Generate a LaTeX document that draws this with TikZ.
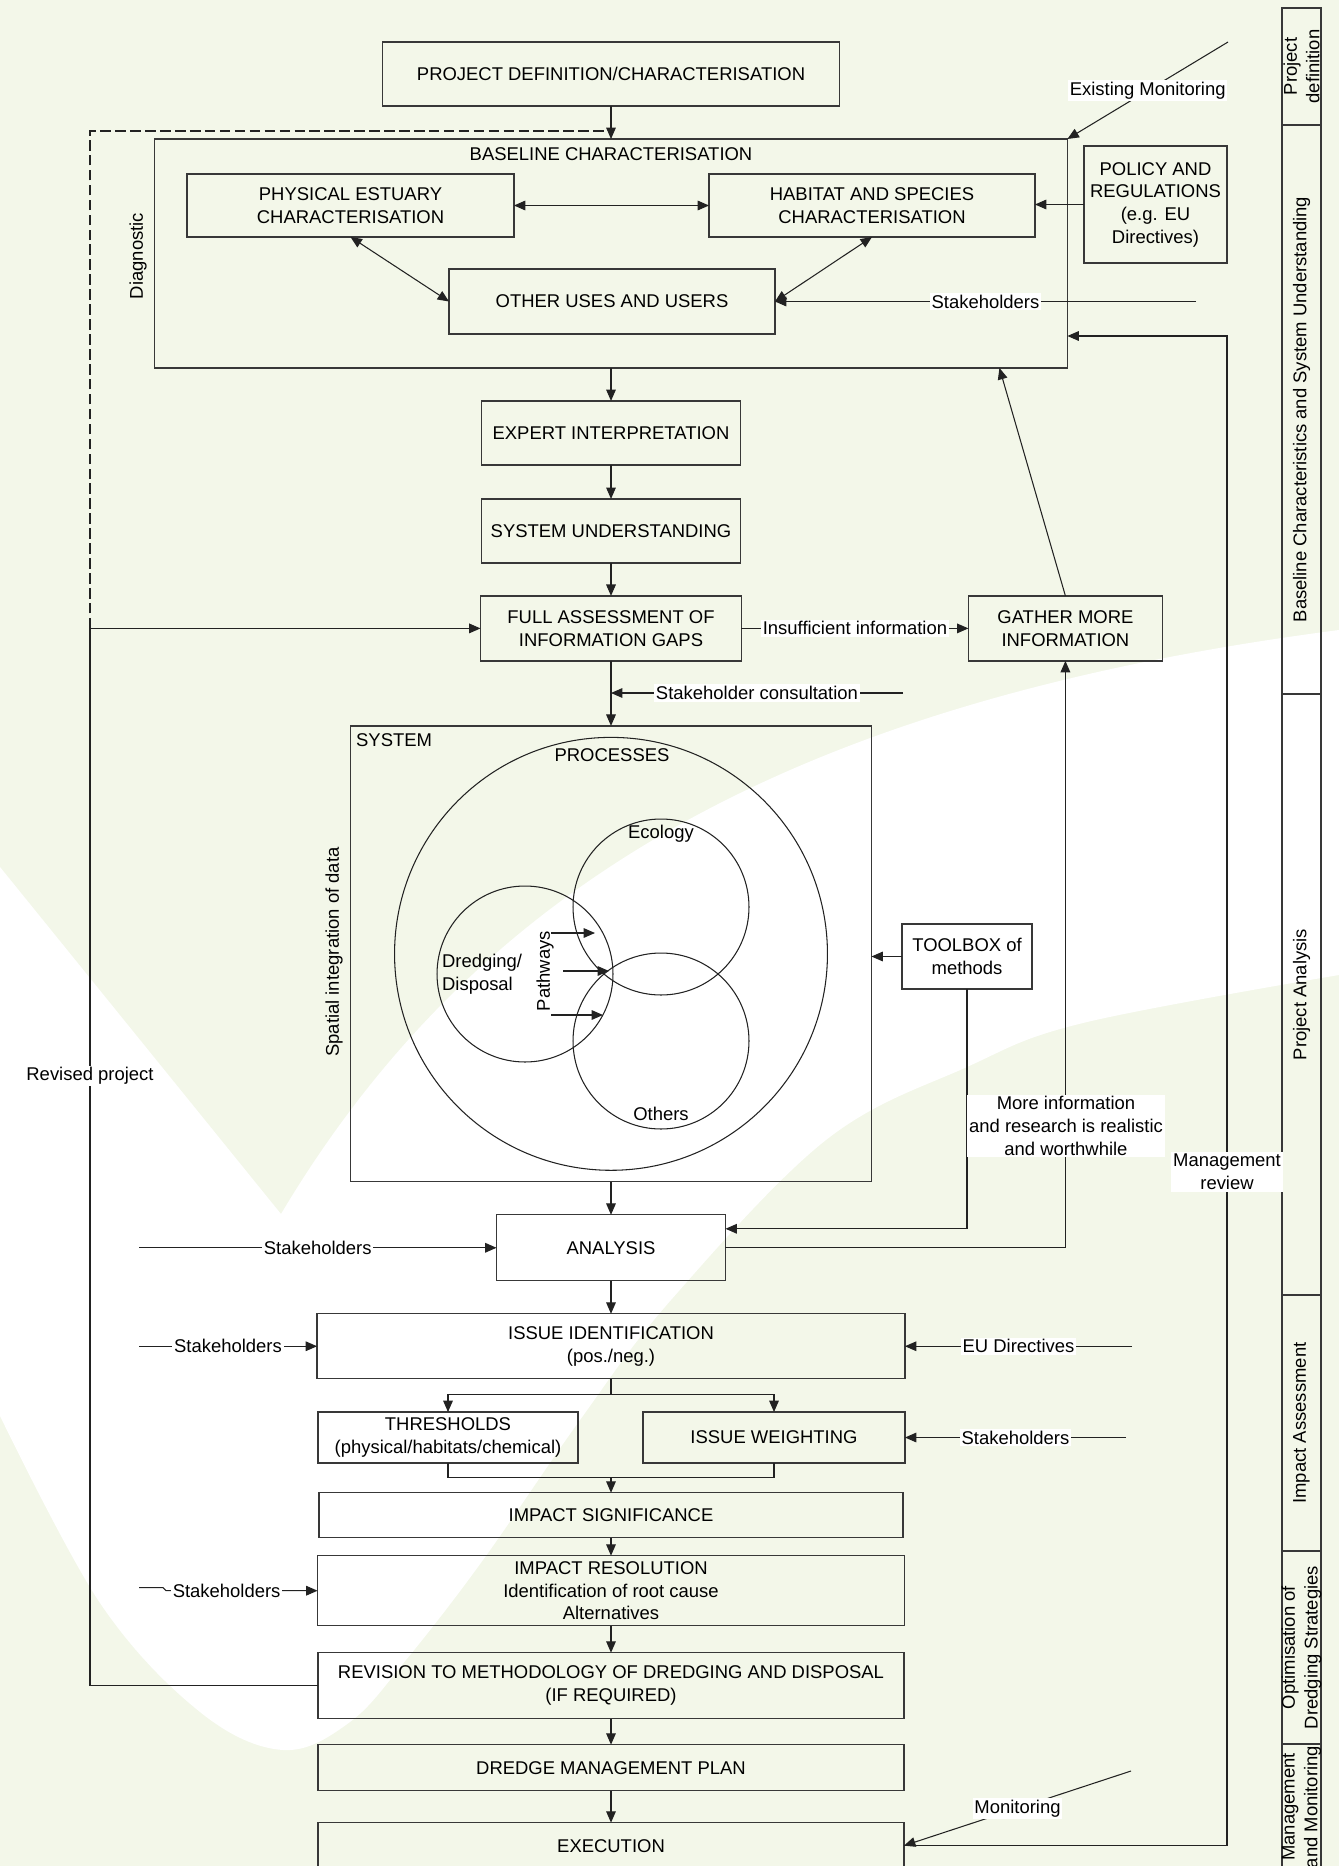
\documentclass[tikz,border=0pt]{standalone}
\usepackage{fontspec}
\setmainfont{Liberation Sans}
\usepackage{tikz}
\usetikzlibrary{arrows.meta, positioning}
\definecolor{PaperGreen}{HTML}{F3F7E9}
\definecolor{BoxGrey}{HTML}{383838}
\definecolor{LineGrey}{HTML}{222222}
\newcommand{\diagfont}{\fontsize{10.5}{12.9}\selectfont}

\begin{document}
\begin{tikzpicture}[x=0.02cm, y=-0.02cm, >={Triangle[length=6.5pt,width=5.5pt]},
  stagebox/.style={draw=BoxGrey, line width=0.8pt, align=center, font=\diagfont,
    inner sep=1pt, outer sep=0pt},
  flow/.style={->, draw=LineGrey, line width=0.6pt},
  link/.style={draw=LineGrey, line width=0.6pt},
  dashline/.style={draw=LineGrey, line width=1.4pt, dash pattern=on 6pt off 2.5pt},
  tag/.style={fill=white, inner sep=1pt, align=center, font=\diagfont},
  txt/.style={inner sep=1pt, align=center, font=\diagfont},
  venn/.style={draw=LineGrey, line width=0.6pt, circle, inner sep=0pt}]

  \useasboundingbox (0,0) rectangle (1339,1866);
  % paper and the white tick behind the chart
  \fill[PaperGreen] (0,0) rectangle (1339,1866);
  \fill[white] (0,867) -- (281,1214) .. controls (480,880) and (800,700) .. (1339,630)
    -- plot[smooth, tension=0.6] coordinates {(1339,975) (1083,1023) (967,1067) (826,1140)
       (671,1300) (580,1420) (483,1560) (406,1660) (350,1722) (283,1750) (200,1712)
       (100,1603) (0,1416)} -- cycle;

  % phase column
  \foreach \ya/\yb/\phase [count=\k] in {8/125/{Project\\definition},
      125/694/{Baseline Characteristics and System Understanding},
      694/1295/{Project Analysis}, 1295/1551/{Impact Assessment},
      1551/1744/{Optimisation of\\Dredging Strategies},
      1744/1870/{Management\\and Monitoring}}{
    \draw[draw=BoxGrey, line width=0.8pt] (1282,\ya) rectangle (1321,\yb);
    \node[txt, rotate=90] (phase\k) at (1301.5,{(\ya+\yb)/2}) {\phase};
  }

  % baseline
  \node[stagebox, minimum width=9.14cm, minimum height=1.28cm] (projdef) at (611,74)
    {PROJECT DEFINITION/CHARACTERISATION};
  \node[stagebox, minimum width=18.26cm, minimum height=4.58cm, below=0.66cm of projdef] (baseline) {};
  \node[txt] (basetitle) at (611,154) {BASELINE CHARACTERISATION};
  \node[txt, rotate=90] (diagnostic) at (138,256) {Diagnostic};
  \node[stagebox, minimum width=6.54cm, minimum height=1.26cm] (physical) at (350.5,205.5)
    {PHYSICAL ESTUARY\\CHARACTERISATION};
  \node[stagebox, minimum width=6.52cm, minimum height=1.26cm] (habitat) at (872,205.5)
    {HABITAT AND SPECIES\\CHARACTERISATION};
  \node[stagebox, minimum width=6.52cm, minimum height=1.30cm] (otheruses) at (612,301.5)
    {OTHER USES AND USERS};
  \node[stagebox, minimum width=2.86cm, minimum height=2.34cm] (policy) at (1155.5,204.5)
    {POLICY AND\\REGULATIONS\\(e.g. EU\\Directives)};

  % understanding
  \node[stagebox, minimum width=5.18cm, minimum height=1.28cm, below=0.66cm of baseline] (expert)
    {EXPERT INTERPRETATION};
  \node[stagebox, minimum width=5.18cm, minimum height=1.28cm, below=0.68cm of expert] (sysund)
    {SYSTEM UNDERSTANDING};
  \node[stagebox, minimum width=5.22cm, minimum height=1.30cm, below=0.66cm of sysund] (fullgap)
    {FULL ASSESSMENT OF\\INFORMATION GAPS};
  \node[stagebox, minimum width=3.88cm, minimum height=1.30cm, right=4.54cm of fullgap] (gather)
    {GATHER MORE\\INFORMATION};

  % system
  \node[stagebox, minimum width=10.42cm, minimum height=9.12cm, below=1.30cm of fullgap] (system) {};
  \node[txt, anchor=north west] (systitle) at ([xshift=0.07cm, yshift=-0.11cm]system.north west) {SYSTEM};
  \node[txt, rotate=90] (spatial) at (334,952) {Spatial integration of data};
  \node[venn, minimum size=8.66cm] (processes) at (system.center) {};
  \node[txt] (proctitle) at (612,755) {PROCESSES};
  \node[venn, minimum size=3.52cm] (ecology) at (661,907) {};
  \node[venn, minimum size=3.52cm] (others) at (661,1041) {};
  \node[venn, minimum size=3.52cm] (dredging) at (525,974) {};
  \node[txt] (ecotitle) at (661,834) {Ecology};
  \node[txt] (othtitle) at (661,1114) {Others};
  \node[txt, align=left, anchor=west] (dredtitle) at (440,974) {Dredging/\\Disposal};
  \node[txt, rotate=90] (pathtitle) at (545,971) {Pathways};
  \draw[flow] (551,933) -- (595,933);
  \draw[flow] (563,971) -- (609,971);
  \draw[flow] (551,1015) -- (603,1015);
  \node[stagebox, minimum width=2.60cm, minimum height=1.30cm] (toolbox) at (967,956.5)
    {TOOLBOX of\\methods};

  % impact assessment
  \node[stagebox, minimum width=4.58cm, minimum height=1.32cm, below=0.66cm of system] (analysis) {ANALYSIS};
  \node[stagebox, minimum width=11.76cm, minimum height=1.30cm, below=0.66cm of analysis] (issueid)
    {ISSUE IDENTIFICATION\\(pos./neg.)};
  \node[stagebox, minimum width=5.20cm, minimum height=1.02cm] (thresholds) at (448,1437.5)
    {THRESHOLDS\\(physical/habitats/chemical)};
  \node[stagebox, minimum width=5.24cm, minimum height=1.02cm] (weighting) at (774,1437.5)
    {ISSUE WEIGHTING};
  \node[stagebox, minimum width=11.68cm, minimum height=0.90cm, below=2.28cm of issueid] (impactsig)
    {IMPACT SIGNIFICANCE};
  \node[stagebox, minimum width=11.74cm, minimum height=1.40cm, below=0.36cm of impactsig] (resolution)
    {IMPACT RESOLUTION\\Identification of root cause\\Alternatives};
  \node[stagebox, minimum width=11.72cm, minimum height=1.32cm, below=0.54cm of resolution] (revision)
    {REVISION TO METHODOLOGY OF DREDGING AND DISPOSAL\\(IF REQUIRED)};
  \node[stagebox, minimum width=11.72cm, minimum height=0.92cm, below=0.52cm of revision] (dmp)
    {DREDGE MANAGEMENT PLAN};
  \node[stagebox, minimum width=11.72cm, minimum height=0.92cm, below=0.64cm of dmp] (execution)
    {EXECUTION};

  % free ends
  \coordinate (dashcorner) at (90,131);
  \coordinate (dashend) at (dashcorner -| projdef.south);
  \coordinate (revcorner) at (dashcorner |- fullgap.west);
  \coordinate (stkbase) at (otheruses.east -| 1196,0);
  \coordinate (exmon) at (1228,42);
  \coordinate (stkcons) at (903,693);
  \coordinate (stkan) at (analysis.west -| 139,0);
  \coordinate (stkiss) at (issueid.west -| 139,0);
  \coordinate (eudir) at (issueid.east -| 1132,0);
  \coordinate (stkwt) at (weighting.east -| 1126,0);
  \coordinate (stkres) at ([yshift=0.06cm]resolution.west -| 139,0);
  \coordinate (mon) at (1131,1771);
  \coordinate (mgmttop) at (1227,336);
  \coordinate (split) at ([yshift=-0.32cm]issueid.south);
  \coordinate (merge) at ([yshift=0.3cm]impactsig.north);

  % connectors
  \draw[flow] (projdef) -- (baseline);
  \draw[dashline] (revcorner) -- (dashcorner) -- (dashend);
  \draw[flow] (revision.west) -| (revcorner) -- (fullgap.west);
  \node[tag] (revlabel) at (90,1076) {Revised project};
  \draw[flow, <->] (physical) -- (habitat);
  \draw[flow, <->] (physical.south) -- (otheruses.west);
  \draw[flow, <->] (habitat.south) -- (otheruses.east);
  \draw[flow] (policy.west) -- (policy.west -| habitat.east);
  \draw[flow] (stkbase) -- node[tag] (lblbase) {Stakeholders} (otheruses.east);
  \draw[flow] (exmon) -- node[tag] (lblexmon) {Existing Monitoring} (baseline.north east);
  \draw[flow] (baseline) -- (expert);
  \draw[flow] (expert) -- (sysund);
  \draw[flow] (sysund) -- (fullgap);
  \draw[flow] (fullgap) -- node[tag] (lblinsuf) {Insufficient information} (gather);
  \draw[flow] (gather.north) -- ([xshift=-1.36cm]baseline.south east);
  \draw[flow] (stkcons) -- node[tag] (lblcons) {Stakeholder consultation} (stkcons -| fullgap.south);
  \draw[flow] (fullgap) -- (system);
  \draw[flow] (toolbox.west) -- (toolbox.west -| system.east);
  \draw[flow] (toolbox.south) |- ([yshift=0.38cm]analysis.east);
  \draw[flow] (analysis.east) -| (gather.south);
  \node[tag] (lblmore) at (1066,1126) {More information\\and research is realistic\\and worthwhile};
  \draw[flow] (system) -- (analysis);
  \draw[flow] (stkan) -- node[tag] (lblan) {Stakeholders} (analysis.west);
  \draw[flow] (analysis) -- (issueid);
  \draw[flow] (stkiss) -- node[tag] (lbliss) {Stakeholders} (issueid.west);
  \draw[flow] (eudir) -- node[tag] (lbleu) {EU Directives} (issueid.east);
  \draw[flow] (issueid.south) -- (split) -| (thresholds.north);
  \draw[flow] (split) -| (weighting.north);
  \draw[flow] (stkwt) -- node[tag] (lblwt) {Stakeholders} (weighting.east);
  \draw[link] (thresholds.south) |- (merge) -| (weighting.south);
  \draw[flow] (merge) -- (impactsig.north);
  \draw[flow] (impactsig) -- (resolution);
  \draw[flow] (stkres) -- ++(24,0) -- ++(3,3) -- node[tag, pos=0.4] (lblres) {Stakeholders} (resolution.west);
  \draw[flow] (resolution) -- (revision);
  \draw[flow] (revision) -- (dmp);
  \draw[flow] (dmp) -- (execution);
  \draw[flow] (mon) -- node[tag] (lblmon) {Monitoring} (execution.east);
  \draw[flow] (execution.east) -| (mgmttop) -- (mgmttop -| baseline.east);
  \node[tag] (lblmgmt) at (1227,1172) {Management\\review};
\end{tikzpicture}
\end{document}
